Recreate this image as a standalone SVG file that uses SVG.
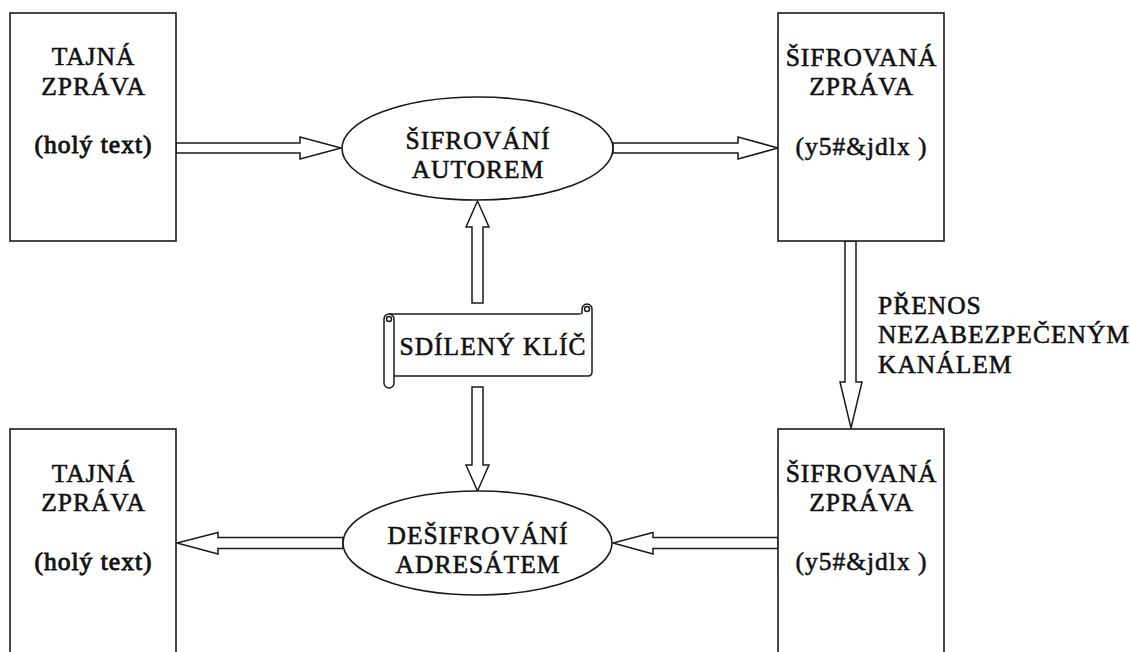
<svg xmlns="http://www.w3.org/2000/svg" width="1130" height="652" viewBox="0 0 1130 652">
<style>
.box{fill:#fff;stroke:#1a1a1a;stroke-width:1.6}
.arr{fill:#fff;stroke:#1a1a1a;stroke-width:1.5;stroke-linejoin:miter}
text{font-family:'Liberation Serif',serif;font-size:25.5px;font-weight:normal;letter-spacing:1px;fill:#111;stroke:#111;stroke-width:0.55}
.t{text-anchor:middle}
</style>
<rect width="1130" height="652" fill="#fff"/>
<g id="connectors">
<polygon class="arr" points="176,143 300,143 300,137 341,148 300,159 300,153 176,153"/>
<polygon class="arr" points="613,143 738,143 738,137 778,148 738,159 738,153 613,153"/>
<polygon class="arr" points="472,303 472,227 466,227 477.5,201 489,227 483,227 483,303"/>
<polygon class="arr" points="472,387 472,465 466,465 477.5,491 489,465 483,465 483,387"/>
<polygon class="arr" points="845,241 845,382 840,382 851,428 862,382 856,382 856,241"/>
<polygon class="arr" points="778,537.5 653,537.5 653,532.5 613,543 653,554 653,548.5 778,548.5"/>
<polygon class="arr" points="343,537.5 218,537.5 218,532.5 177,543 218,554 218,548.5 343,548.5"/>
<g id="label-prenos">
<text x="878" y="314">PŘENOS</text>
<text x="878" y="343">NEZABEZPEČENÝM</text>
<text x="878" y="373">KANÁLEM</text>
</g>
</g>
<g id="tajna-top">
<rect class="box" x="10" y="13" width="166" height="228"/>
<text class="t" x="93.5" y="65">TAJNÁ</text>
<text class="t" x="93.5" y="95">ZPRÁVA</text>
<text class="t" x="93.5" y="153" style="stroke-width:0.9">(holý text)</text>
</g>
<g id="sifrovana-top">
<rect class="box" x="778" y="13" width="166" height="228"/>
<text class="t" x="861.5" y="66">ŠIFROVANÁ</text>
<text class="t" x="861.5" y="95">ZPRÁVA</text>
<text class="t" x="861.5" y="155">(y5#&amp;jdlx )</text>
</g>
<g id="sifrovani">
<ellipse class="box" cx="477.5" cy="148.5" rx="135.5" ry="51.5"/>
<text class="t" x="478" y="149">ŠIFROVÁNÍ</text>
<text class="t" x="478" y="178">AUTOREM</text>
</g>
<g id="klic">
<path d="M389,314 L587,314 L587,376 L394,376 Z" fill="#fff"/>
<path class="arr" d="M389,314 L582,314"/>
<path class="arr" d="M582,314 L582,309 A5,5 0 0 1 592,309 L592,372 Q592,376 588,376 L394,376"/>
<circle class="arr" cx="587" cy="309" r="2.5"/>
<path class="arr" d="M384,319 A5,5 0 0 1 394,319 L394,383 A5,5 0 0 1 384,383 Z"/>
<circle class="arr" cx="389" cy="319" r="2.5"/>
<text class="t" x="493" y="355">SDÍLENÝ KLÍČ</text>
</g>
<g id="tajna-bottom">
<rect class="box" x="10" y="429" width="166" height="240"/>
<text class="t" x="93.5" y="482">TAJNÁ</text>
<text class="t" x="93.5" y="511">ZPRÁVA</text>
<text class="t" x="93.5" y="570" style="stroke-width:0.9">(holý text)</text>
</g>
<g id="sifrovana-bottom">
<rect class="box" x="778" y="429" width="166" height="240"/>
<text class="t" x="861.5" y="482">ŠIFROVANÁ</text>
<text class="t" x="861.5" y="511">ZPRÁVA</text>
<text class="t" x="861.5" y="570">(y5#&amp;jdlx )</text>
</g>
<g id="desifrovani">
<ellipse class="box" cx="477.5" cy="543" rx="134.5" ry="52"/>
<text class="t" x="478" y="544">DEŠIFROVÁNÍ</text>
<text class="t" x="478" y="573">ADRESÁTEM</text>
</g>
</svg>
